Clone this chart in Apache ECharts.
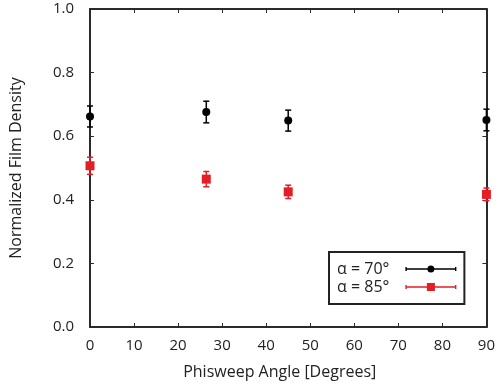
<!DOCTYPE html>
<html>
<head>
<meta charset="utf-8">
<script src="https://cdn.jsdelivr.net/npm/echarts@6/dist/echarts.min.js"></script>
<style>html,body{margin:0;padding:0;background:#fff;}#c{width:498px;height:388px;}</style>
</head>
<body>
<div id="c"></div>
<script>
var xValues = [0, 26.4, 45, 90];
var alpha70 = [0.662, 0.676, 0.649, 0.651];
var alpha70Err = [0.033, 0.034, 0.033, 0.034];
var alpha85 = [0.507, 0.465, 0.425, 0.417];
var alpha85Err = [0.027, 0.024, 0.021, 0.020];
var seriesNames = ['\u03b1 = 70\u00b0', '\u03b1 = 85\u00b0'];
var xTitle = 'Phisweep Angle [Degrees]';
var yTitle = 'Normalized Film Density';

var BLACK = '#000000';
var RED = '#e41e26';
var FONT = 'Open Sans';

function pts(ys) { return xValues.map(function (x, i) { return [x, ys[i]]; }); }
function errs(ys, es) { return xValues.map(function (x, i) { return [x, ys[i] - es[i], ys[i] + es[i]]; }); }

function errRender(color) {
  return function (params, api) {
    var x = api.value(0);
    var lo = api.coord([x, api.value(1)]);
    var hi = api.coord([x, api.value(2)]);
    var cw = 3;
    var st = { stroke: color, lineWidth: 1.5 };
    return {
      type: 'group',
      children: [
        { type: 'line', shape: { x1: lo[0], y1: lo[1], x2: hi[0], y2: hi[1] }, style: st },
        { type: 'line', shape: { x1: lo[0] - cw, y1: lo[1], x2: lo[0] + cw, y2: lo[1] }, style: st },
        { type: 'line', shape: { x1: hi[0] - cw, y1: hi[1], x2: hi[0] + cw, y2: hi[1] }, style: st }
      ]
    };
  };
}

// legend icons (51 x 10 box): line with caps and marker
var iconBase = 'M0 4.3 H51 V5.7 H0 Z M0 3 H1.4 V7 H0 Z M49.6 3 H51 V7 H49.6 Z M25 0 H25.01 V0.01 H25 Z M25 9.99 H25.01 V10 H25 Z ';
var iconCircle = iconBase + 'M29 5 A3.5 3.5 0 1 1 22 5 A3.5 3.5 0 1 1 29 5 Z';
var iconSquare = iconBase + 'M21.5 1 H29.5 V9 H21.5 Z';

var axisCommon = {
  axisLine: { show: true, onZero: false, lineStyle: { color: '#2a2a2a', width: 2 } },
  axisTick: { show: true, inside: true, length: 4, lineStyle: { color: '#2a2a2a', width: 1 } },
  splitLine: { show: false }
};

var chart = echarts.init(document.getElementById('c'));
chart.setOption({
  animation: false,
  backgroundColor: '#fff',
  grid: { left: 90, right: 11, top: 9, bottom: 61, containLabel: false },
  xAxis: [
    Object.assign({
      type: 'value', min: 0, max: 90, interval: 10, position: 'bottom',
      name: xTitle, nameLocation: 'middle', nameGap: 37,
      nameTextStyle: { fontFamily: FONT, fontSize: 16, color: '#222', padding: [0, 17, 0, 0] },
      axisLabel: { fontFamily: FONT, fontSize: 15, color: '#222', margin: 11 }
    }, axisCommon),
    Object.assign({
      type: 'value', min: 0, max: 90, interval: 10, position: 'top',
      axisLabel: { show: false }
    }, axisCommon)
  ],
  yAxis: [
    Object.assign({
      type: 'value', min: 0, max: 1, interval: 0.2, position: 'left',
      name: yTitle, nameLocation: 'middle', nameGap: 66, nameRotate: 90,
      nameTextStyle: { fontFamily: FONT, fontSize: 16, color: '#222' },
      axisLabel: { fontFamily: FONT, fontSize: 15, color: '#222', margin: 16,
        formatter: function (v) { return v.toFixed(1); } }
    }, axisCommon),
    Object.assign({
      type: 'value', min: 0, max: 1, interval: 0.2, position: 'right',
      axisLabel: { show: false }
    }, axisCommon)
  ],
  legend: {
    orient: 'vertical', left: 329, top: 252, align: 'right',
    padding: [8, 8, 8, 8], itemGap: 0, itemWidth: 51, itemHeight: 10,
    borderColor: '#222', borderWidth: 2, backgroundColor: '#fff',
    textStyle: { fontFamily: FONT, fontSize: 16, color: '#222', lineHeight: 18, padding: [0, 11, 0, 0] },
    data: [
      { name: seriesNames[0], icon: 'path://' + iconCircle },
      { name: seriesNames[1], icon: 'path://' + iconSquare }
    ]
  },
  series: [
    { type: 'custom', name: seriesNames[0], renderItem: errRender(BLACK), data: errs(alpha70, alpha70Err),
      itemStyle: { color: BLACK }, encode: { x: 0, y: [1, 2] }, z: 3, clip: false },
    { type: 'custom', name: seriesNames[1], renderItem: errRender(RED), data: errs(alpha85, alpha85Err),
      itemStyle: { color: RED }, encode: { x: 0, y: [1, 2] }, z: 3, clip: false },
    { type: 'scatter', name: seriesNames[0], data: pts(alpha70), symbol: 'circle', symbolSize: 8,
      itemStyle: { color: BLACK, opacity: 1 }, z: 4, clip: false },
    { type: 'scatter', name: seriesNames[1], data: pts(alpha85), symbol: 'rect', symbolSize: 9,
      itemStyle: { color: RED, opacity: 1 }, z: 4, clip: false }
  ]
});
</script>
</body>
</html>
